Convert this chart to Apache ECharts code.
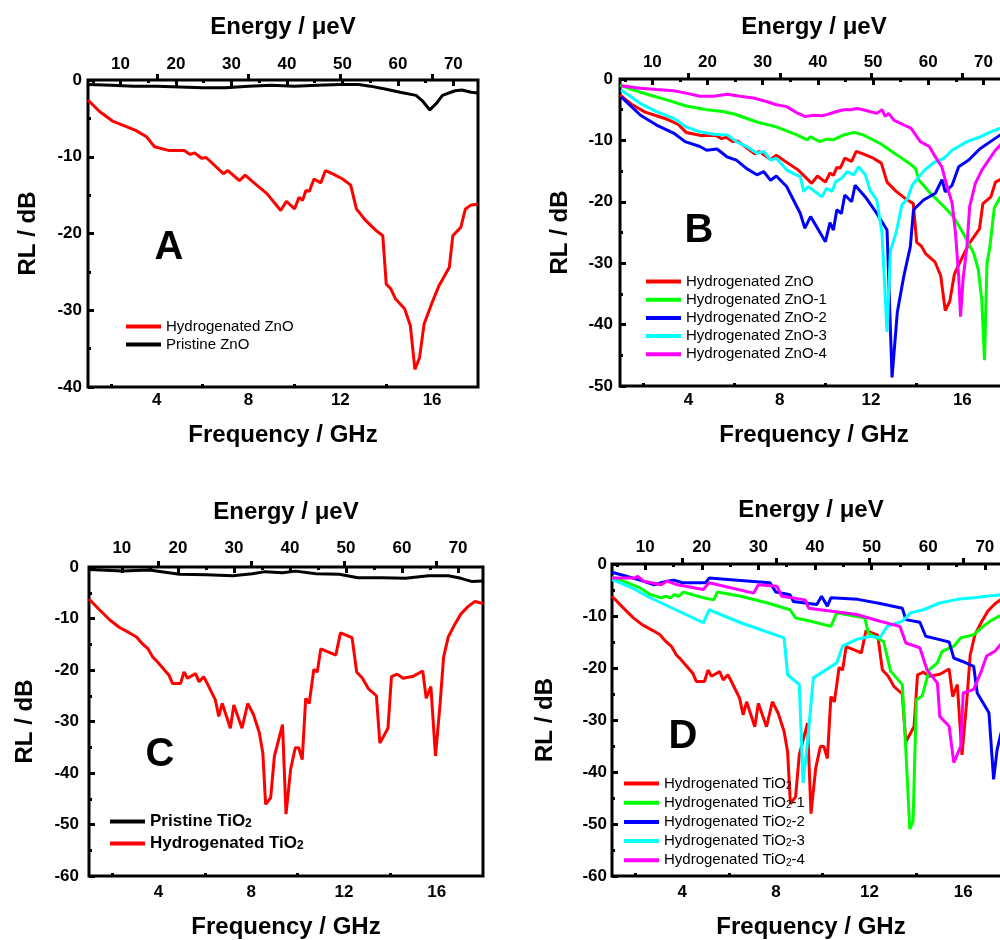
<!DOCTYPE html>
<html>
<head>
<meta charset="utf-8">
<script src="https://cdn.jsdelivr.net/npm/echarts@6/dist/echarts.min.js"></script>
<style>
  html, body { margin: 0; padding: 0; overflow: hidden; background: #fff; }
  #chart { width: 1020px; height: 940px; }
</style>
</head>
<body>
<div id="chart"></div>
<script>
// 频率 (GHz) -> 能量 (μeV)
const EV_PER_GHZ = 4.1357;
const FONT = 'Liberation Sans, Arial, sans-serif';

// 刻度
const freqLabels = [4, 8, 12, 16];
const freqMinor = [2, 6, 10, 14];
const energyLabels = [10, 20, 30, 40, 50, 60, 70];
const energyMinor = [5, 15, 25, 35, 45, 55, 65];

// A / B: ZnO
const znoHydF = [1.0, 1.5, 2.1, 2.7, 3.1, 3.55, 3.9, 4.55, 5.2, 5.45, 5.65, 5.95, 6.15, 6.9, 7.1, 7.6, 7.85, 8.2, 8.8, 9.4, 9.65, 10.0, 10.2, 10.35, 10.5, 10.65, 10.85, 11.15, 11.35, 11.65, 12.1, 12.45, 12.7, 13.1, 13.55, 13.85, 14.0, 14.2, 14.4, 14.8, 15.05, 15.25, 15.45, 15.65, 16.0, 16.3, 16.75, 16.9, 17.25, 17.45, 17.7, 18.0];
const znoHydRL = [-2.6, -4.1, -5.4, -6.1, -6.6, -7.4, -8.7, -9.2, -9.2, -9.7, -9.5, -10.2, -10.1, -12.2, -11.8, -13.1, -12.4, -13.3, -14.8, -17.0, -15.8, -16.8, -15.3, -15.7, -14.4, -14.5, -12.9, -13.4, -11.8, -12.2, -12.9, -13.7, -16.8, -18.3, -19.6, -20.3, -26.6, -27.2, -28.5, -29.8, -32.0, -37.7, -36.2, -31.8, -29.0, -26.8, -24.4, -20.3, -19.2, -16.8, -16.3, -16.2];

const znoPriF = [1.0, 2, 3, 4, 5, 6, 7, 8, 9, 10, 11, 12, 12.8, 13.3, 14, 14.6, 15.3, 15.6, 15.9, 16.2, 16.45, 17, 17.3, 17.7, 18];
const znoPriRL = [-0.6, -0.7, -0.8, -0.8, -0.9, -1.0, -1.0, -0.8, -0.7, -0.8, -0.7, -0.6, -0.6, -0.8, -1.2, -1.6, -2.0, -2.8, -3.9, -3.0, -2.0, -1.4, -1.3, -1.6, -1.7];

const zno1F = [1.0, 1.6, 2.3, 3.05, 3.9, 4.8, 5.5, 6.0, 7.0, 7.85, 8.75, 9.2, 9.35, 9.75, 10.05, 10.35, 10.8, 11.25, 11.65, 12.4, 13.15, 13.7, 13.95, 14.1, 14.6, 15.2, 15.6, 16.05, 16.5, 16.7, 16.85, 16.97, 17.08, 17.2, 17.4, 17.65, 18.0];
const zno1RL = [-1.0, -1.8, -2.6, -3.4, -4.4, -5.0, -5.3, -5.7, -7.0, -7.8, -9.1, -9.9, -9.4, -10.2, -9.8, -9.9, -9.1, -8.7, -9.1, -10.5, -12.4, -13.8, -14.6, -16.5, -18.6, -20.8, -22.4, -25.2, -28.4, -31.1, -36.0, -45.8, -30.0, -27.5, -21.0, -19.3, -18.5];

const zno2F = [1.05, 1.9, 2.6, 3.35, 3.85, 4.5, 4.8, 5.25, 5.7, 6.1, 6.55, 7.0, 7.3, 7.6, 7.85, 8.3, 8.6, 8.9, 9.1, 9.35, 10.0, 10.2, 10.35, 10.5, 10.7, 10.85, 11.15, 11.3, 11.75, 12.25, 12.7, 12.92, 13.15, 13.43, 13.72, 13.86, 14.3, 14.82, 15.11, 15.25, 15.55, 15.84, 16.28, 16.79, 17.23, 17.67, 18.0];
const zno2RL = [-2.9, -5.9, -7.5, -8.8, -10.2, -11.0, -11.6, -11.4, -12.7, -13.2, -14.6, -15.6, -15.1, -16.5, -15.8, -17.5, -19.7, -21.9, -24.3, -22.4, -26.5, -23.4, -24.6, -21.3, -21.9, -18.9, -20.0, -17.3, -19.2, -21.9, -24.6, -48.6, -38.0, -32.2, -27.3, -21.3, -19.7, -18.6, -16.4, -18.4, -17.3, -14.3, -13.2, -11.3, -10.2, -9.1, -8.5];

const zno3F = [1.05, 1.9, 2.6, 3.35, 3.9, 4.5, 5.1, 5.7, 6.1, 6.55, 7.0, 7.3, 7.6, 7.85, 8.3, 8.6, 8.9, 9.05, 9.25, 9.85, 10.05, 10.3, 10.45, 10.7, 10.95, 11.25, 11.45, 11.75, 11.95, 12.25, 12.48, 12.7, 12.85, 13.1, 13.35, 13.6, 13.8, 14.3, 14.75, 15.2, 15.55, 16.2, 16.8, 17.25, 17.67, 18.0];
const zno3RL = [-1.8, -4.0, -5.3, -6.4, -7.8, -8.6, -9.0, -9.1, -10.2, -11.0, -12.1, -11.8, -13.2, -12.9, -14.8, -15.4, -15.9, -18.3, -17.5, -19.2, -17.8, -18.3, -16.7, -16.2, -15.1, -15.6, -14.3, -15.6, -18.1, -19.7, -25.1, -41.2, -28.0, -25.0, -20.5, -19.5, -17.3, -15.0, -13.6, -12.9, -11.6, -10.2, -9.4, -8.6, -8.0, -7.6];

const zno4F = [1.05, 1.9, 2.6, 3.35, 3.9, 4.5, 5.1, 5.7, 6.25, 6.85, 7.45, 7.85, 8.3, 8.75, 9.1, 9.5, 9.85, 10.15, 10.5, 10.8, 11.1, 11.4, 11.65, 12.25, 12.48, 12.62, 12.77, 13.0, 13.45, 13.75, 13.95, 14.16, 14.55, 14.8, 15.1, 15.33, 15.55, 15.7, 15.84, 15.92, 16.03, 16.2, 16.32, 16.57, 16.86, 17.15, 17.45, 17.67, 18.0];
const zno4RL = [-1.1, -1.5, -1.7, -1.9, -2.3, -2.8, -2.8, -2.5, -2.8, -3.1, -3.7, -4.2, -4.5, -5.5, -6.1, -5.9, -6.0, -5.7, -5.3, -5.0, -5.0, -4.8, -5.0, -5.6, -5.0, -6.1, -5.6, -6.7, -7.5, -8.0, -9.1, -10.2, -11.0, -12.6, -14.3, -17.5, -20.2, -25.1, -32.2, -38.7, -32.7, -27.3, -20.8, -17.0, -14.8, -13.2, -11.6, -10.7, -10.3];

// C / D: TiO2
const tioPriF = [1.0, 2.45, 3.6, 4.9, 6.05, 7.2, 8.05, 8.6, 9.35, 9.9, 10.8, 11.8, 12.6, 13.65, 14.65, 15.65, 16.5, 17.05, 17.5, 18.0];
const tioPriRL = [-0.5, -0.8, -0.6, -1.4, -1.5, -1.7, -1.3, -0.9, -1.1, -0.8, -1.3, -1.4, -2.1, -2.1, -2.2, -1.7, -1.7, -2.2, -2.8, -2.7];

const tioHydF = [1.0, 1.45, 1.9, 2.3, 2.75, 3.05, 3.3, 3.55, 3.75, 3.95, 4.2, 4.45, 4.6, 4.95, 5.1, 5.25, 5.6, 5.75, 5.95, 6.1, 6.45, 6.6, 6.75, 7.1, 7.25, 7.6, 7.85, 8.1, 8.35, 8.5, 8.62, 8.84, 9.0, 9.35, 9.5, 9.7, 9.9, 10.05, 10.2, 10.35, 10.5, 10.7, 10.85, 11.0, 11.65, 11.85, 12.35, 12.55, 12.8, 13.05, 13.4, 13.55, 13.9, 14.05, 14.3, 14.55, 15.0, 15.4, 15.55, 15.75, 15.95, 16.15, 16.3, 16.5, 16.8, 17.05, 17.35, 17.65, 18.0];
const tioHydRL = [-6.2, -8.3, -10.3, -11.7, -12.8, -13.6, -14.9, -15.9, -17.5, -18.4, -19.7, -21.0, -22.6, -22.6, -20.4, -21.6, -20.7, -22.3, -21.3, -22.6, -25.8, -29.0, -26.5, -31.3, -26.8, -31.3, -26.5, -28.7, -32.2, -36.1, -46.1, -44.8, -36.7, -30.6, -48.0, -39.3, -35.1, -35.1, -37.4, -25.5, -26.5, -19.9, -20.4, -15.9, -17.1, -12.8, -13.7, -20.4, -21.6, -23.6, -25.0, -34.2, -31.3, -21.3, -20.8, -21.6, -21.2, -20.2, -25.5, -23.2, -36.7, -26.5, -17.5, -13.6, -11.0, -9.1, -7.7, -6.7, -7.1];

const tio1F = [1.0, 1.65, 2.2, 2.65, 3.1, 3.3, 3.5, 3.65, 3.85, 4.05, 4.9, 5.35, 5.5, 6.5, 7.65, 8.6, 8.85, 9.5, 10.35, 10.6, 11.45, 11.8, 11.95, 12.3, 12.6, 12.9, 13.4, 13.55, 13.72, 13.86, 14.0, 14.25, 14.55, 14.9, 15.1, 15.6, 15.9, 16.45, 16.85, 17.15, 17.5, 18.0];
const tio1RL = [-2.5, -3.6, -4.6, -5.9, -6.5, -6.2, -6.5, -5.9, -6.2, -5.4, -6.5, -6.9, -5.4, -6.2, -7.5, -8.8, -10.4, -11.0, -12.0, -9.4, -10.1, -10.4, -13.3, -14.2, -14.9, -20.6, -23.2, -35.7, -51.0, -49.4, -26.1, -25.4, -20.3, -19.0, -16.8, -15.8, -14.2, -13.6, -12.0, -11.0, -10.1, -9.5];

const tio2F = [1.0, 1.65, 2.2, 2.8, 3.1, 3.35, 3.65, 4.0, 5.0, 5.15, 6.9, 7.75, 8.0, 8.6, 8.75, 9.75, 9.95, 10.2, 10.35, 11.5, 12.45, 13.4, 13.55, 14.15, 14.4, 14.95, 15.4, 15.6, 15.95, 16.45, 16.6, 17.1, 17.3, 17.45, 17.6, 18.0];
const tio2RL = [-1.6, -2.4, -3.1, -4.0, -3.6, -3.3, -3.1, -3.6, -3.6, -2.7, -3.3, -3.6, -5.4, -5.9, -7.2, -7.8, -6.2, -8.1, -6.5, -6.8, -7.6, -8.5, -10.7, -11.2, -13.9, -14.5, -15.0, -18.1, -18.7, -19.7, -24.8, -28.6, -41.4, -35.7, -32.8, -27.0];

const tio3F = [1.0, 1.5, 1.95, 2.5, 4.9, 5.15, 6.5, 8.35, 8.5, 9.0, 9.16, 9.35, 9.6, 10.05, 10.6, 10.85, 11.45, 12.05, 12.45, 12.75, 13.4, 13.75, 14.3, 15.0, 15.75, 16.45, 17.6, 18.0];
const tio3RL = [-3.0, -3.9, -4.8, -6.2, -11.3, -8.8, -11.3, -14.2, -21.3, -23.2, -42.1, -34.4, -21.9, -20.6, -19.0, -15.8, -14.5, -13.9, -14.2, -12.0, -11.0, -9.4, -8.8, -7.5, -6.8, -6.5, -5.9, -5.8];

const tio4F = [1.0, 1.95, 2.1, 2.35, 3.1, 3.35, 3.8, 4.9, 5.15, 7.05, 7.25, 8.05, 8.25, 9.25, 9.4, 10.4, 11.45, 12.45, 13.3, 13.55, 14.15, 14.45, 14.9, 15.0, 15.4, 15.6, 15.9, 16.0, 16.45, 16.75, 17.0, 17.35, 17.6, 18.0];
const tio4RL = [-2.7, -2.7, -2.4, -3.3, -4.0, -3.3, -4.0, -4.9, -3.6, -5.6, -4.0, -4.3, -6.2, -6.9, -8.5, -9.1, -9.7, -11.0, -12.0, -15.2, -16.1, -20.3, -22.9, -29.3, -31.2, -38.2, -35.0, -24.8, -24.1, -20.9, -17.7, -16.8, -15.5, -15.0];

const zip = (xs, ys) => xs.map((x, i) => [x, ys[i]]);

// 四个子图的布局
const panels = [
    { grid: { left: 88, top: 80, width: 390, height: 307 }, yMin: -40,
      gap: { b: 36, t: 41, l: 48 }, margin: { b: 5, t: 7, l: 6 },
      letter: 'A', lx: 169, ly: 248,
      legend: { left: 126, top: 319, itemGap: 3, fontSize: 15, fontWeight: 'normal' } },
    { grid: { left: 620, top: 79, width: 388, height: 307 }, yMin: -50,
      gap: { b: 37, t: 40, l: 48 }, margin: { b: 6, t: 8, l: 7 },
      letter: 'B', lx: 699, ly: 231,
      legend: { left: 646, top: 274, itemGap: 3.2, fontSize: 15, fontWeight: 'normal' } },
    { grid: { left: 89, top: 567, width: 394, height: 310 }, yMin: -60,
      gap: { b: 39, t: 43, l: 52 }, margin: { b: 8, t: 10, l: 10 },
      letter: 'C', lx: 160, ly: 755,
      legend: { left: 110, top: 813, itemGap: 5, fontSize: 17, fontWeight: 'bold' } },
    { grid: { left: 612, top: 564, width: 398, height: 313 }, yMin: -60,
      gap: { b: 39, t: 42, l: 55 }, margin: { b: 8, t: 8, l: 5 },
      letter: 'D', lx: 683, ly: 737,
      legend: { left: 624, top: 776, itemGap: 4.2, fontSize: 15, fontWeight: 'normal' } }
];

// 各子图的曲线
const panelSeries = [
    [
        { name: 'Hydrogenated ZnO', color: '#ff0000', data: zip(znoHydF, znoHydRL) },
        { name: 'Pristine ZnO', color: '#000000', data: zip(znoPriF, znoPriRL) }
    ],
    [
        { name: 'Hydrogenated ZnO', color: '#ff0000', data: zip(znoHydF, znoHydRL) },
        { name: 'Hydrogenated ZnO-1', color: '#00ff00', data: zip(zno1F, zno1RL) },
        { name: 'Hydrogenated ZnO-2', color: '#0000ff', data: zip(zno2F, zno2RL) },
        { name: 'Hydrogenated ZnO-3', color: '#00ffff', data: zip(zno3F, zno3RL) },
        { name: 'Hydrogenated ZnO-4', color: '#ff00ff', data: zip(zno4F, zno4RL) }
    ],
    [
        { name: 'Pristine TiO2', color: '#000000', data: zip(tioPriF, tioPriRL) },
        { name: 'Hydrogenated TiO2', color: '#ff0000', data: zip(tioHydF, tioHydRL) }
    ],
    [
        { name: 'Hydrogenated TiO2', color: '#ff0000', data: zip(tioHydF, tioHydRL) },
        { name: 'Hydrogenated TiO2-1', color: '#00ff00', data: zip(tio1F, tio1RL) },
        { name: 'Hydrogenated TiO2-2', color: '#0000ff', data: zip(tio2F, tio2RL) },
        { name: 'Hydrogenated TiO2-3', color: '#00ffff', data: zip(tio3F, tio3RL) },
        { name: 'Hydrogenated TiO2-4', color: '#ff00ff', data: zip(tio4F, tio4RL) }
    ]
];

const tickStyle = { color: '#000', width: 3 };
const labelStyle = { color: '#000', fontSize: 17, fontWeight: 'bold', fontFamily: FONT };
const nameStyle = { color: '#000', fontSize: 24, fontWeight: 'bold', fontFamily: FONT };

const grids = [], xAxes = [], yAxes = [], series = [], legends = [], graphics = [];

panels.forEach((p, gi) => {
    grids.push(Object.assign({ show: true, borderColor: '#000', borderWidth: 3 }, p.grid));

    // 下轴: 频率
    xAxes.push({
        gridIndex: gi, type: 'value', position: 'bottom', min: 1, max: 18,
        name: 'Frequency / GHz', nameLocation: 'middle', nameGap: p.gap.b, nameTextStyle: nameStyle,
        axisLine: { show: false }, splitLine: { show: false },
        axisTick: { inside: true, length: 6, lineStyle: tickStyle, customValues: freqLabels },
        axisLabel: Object.assign({ margin: p.margin.b, customValues: freqLabels }, labelStyle)
    });
    xAxes.push({
        gridIndex: gi, type: 'value', position: 'bottom', min: 1, max: 18,
        axisLine: { show: false }, splitLine: { show: false }, axisLabel: { show: false },
        axisTick: { inside: true, length: 3, lineStyle: tickStyle, customValues: freqMinor }
    });
    // 上轴: 能量
    xAxes.push({
        gridIndex: gi, type: 'value', position: 'top', min: 1 * EV_PER_GHZ, max: 18 * EV_PER_GHZ,
        name: 'Energy / μeV', nameLocation: 'middle', nameGap: p.gap.t, nameTextStyle: nameStyle,
        axisLine: { show: false }, splitLine: { show: false },
        axisTick: { inside: true, length: 6, lineStyle: tickStyle, customValues: energyLabels },
        axisLabel: Object.assign({ margin: p.margin.t, customValues: energyLabels }, labelStyle)
    });
    xAxes.push({
        gridIndex: gi, type: 'value', position: 'top', min: 1 * EV_PER_GHZ, max: 18 * EV_PER_GHZ,
        axisLine: { show: false }, splitLine: { show: false }, axisLabel: { show: false },
        axisTick: { inside: true, length: 3, lineStyle: tickStyle, customValues: energyMinor }
    });

    yAxes.push({
        gridIndex: gi, type: 'value', min: p.yMin, max: 0, interval: 10,
        name: 'RL / dB', nameLocation: 'middle', nameGap: p.gap.l, nameTextStyle: nameStyle,
        axisLine: { show: false }, splitLine: { show: false },
        axisTick: { inside: true, length: 6, lineStyle: tickStyle },
        minorTick: { show: true, splitNumber: 2, length: 3, lineStyle: tickStyle },
        axisLabel: Object.assign({ margin: p.margin.l }, labelStyle)
    });

    panelSeries[gi].forEach(s => {
        series.push({
            name: s.name, type: 'line', xAxisIndex: gi * 4, yAxisIndex: gi,
            data: s.data, symbol: 'none', color: s.color,
            lineStyle: { color: s.color, width: 3 }
        });
    });

    legends.push({
        orient: 'vertical', left: p.legend.left, top: p.legend.top, padding: 0,
        itemGap: p.legend.itemGap, itemWidth: 35, itemHeight: 4, icon: 'rect',
        selectedMode: false,
        data: panelSeries[gi].map(s => s.name),
        formatter: name => name.replace('TiO2', 'TiO{s|2}'),
        textStyle: {
            color: '#000', fontSize: p.legend.fontSize, fontWeight: p.legend.fontWeight, fontFamily: FONT,
            rich: { s: { fontSize: p.legend.fontSize - 5, fontWeight: p.legend.fontWeight, fontFamily: FONT, verticalAlign: 'bottom', color: '#000' } }
        }
    });

    graphics.push({
        type: 'text', x: p.lx, y: p.ly,
        style: { text: p.letter, font: 'bold 40px ' + FONT, fill: '#000', textAlign: 'center', textVerticalAlign: 'middle' }
    });
});

const chart = echarts.init(document.getElementById('chart'), null, { width: 1020, height: 940 });
chart.setOption({
    animation: false,
    backgroundColor: '#fff',
    grid: grids,
    xAxis: xAxes,
    yAxis: yAxes,
    legend: legends,
    graphic: graphics,
    series: series
});
</script>
</body>
</html>
